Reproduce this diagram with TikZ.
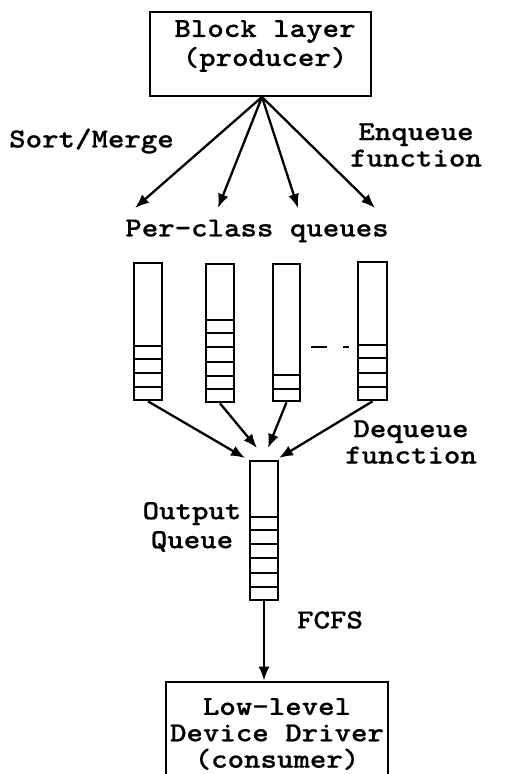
\documentclass[tikz,border=0pt]{standalone}
\usepackage{fontspec}
\setmonofont{lmmonolt10-bold}[Extension=.otf, FakeStretch=1.14, FakeBold=0.6]
\usetikzlibrary{arrows.meta}
\begin{document}
\begin{tikzpicture}[x=0.5pt,y=-0.5pt,
  lbl/.style={font=\ttfamily\fontsize{13.75}{14.5}\selectfont, align=center, inner sep=0pt},
  tight/.style={font=\ttfamily\fontsize{13.75}{13.2}\selectfont},
  arr/.style={-{Latex[length=7pt,width=5.5pt]}, line width=1.15pt},
  qbox/.style={draw, line width=1.35pt, minimum width=14pt, inner sep=0pt},
  bigbox/.style={draw, line width=1.35pt, inner sep=0pt},
  cell/.style={line width=1.35pt}]
\useasboundingbox (0,0) rectangle (510,774);

% top box
\node[bigbox, minimum width=110.5pt, minimum height=42pt] (prod) at (260.5,54) {};
\node[lbl] (prodtxt) at (265,46) {Block layer\\(producer)};

% labels
\node[lbl] (sortm) at (91.5,141) {Sort/Merge};
\node[lbl, tight] (enq) at (416,145) {Enqueue\\function};
\node[lbl] (pcq) at (257,231) {Per-class queues};

% arrows from producer
\coordinate (src) at (262,97);
\coordinate (t1) at (135,208);
\coordinate (t2) at (218,208);
\coordinate (t3) at (298,208);
\coordinate (t4) at (375,208);
\foreach \t in {t1,t2,t3,t4} \draw[arr] (src) -- (\t);

% per-class queues
\node[qbox, minimum height=68.5pt] (q1) at (148,331.5) {};
\foreach \y in {346,359,373,387} \draw[cell] (q1.west |- 0,\y) -- (q1.east |- 0,\y);
\node[qbox, minimum height=69pt] (q2) at (220,333) {};
\foreach \y in {320,333,347,362,376,389} \draw[cell] (q2.west |- 0,\y) -- (q2.east |- 0,\y);
\node[qbox, minimum width=13.5pt, minimum height=68.5pt] (q3) at (286.5,332.5) {};
\foreach \y in {375,389} \draw[cell] (q3.west |- 0,\y) -- (q3.east |- 0,\y);
\node[qbox, minimum width=14.5pt, minimum height=69pt] (q4) at (372.5,331) {};
\foreach \y in {345,358,373,387} \draw[cell] (q4.west |- 0,\y) -- (q4.east |- 0,\y);
\draw[line width=1.35pt, dash pattern=on 8pt off 8pt] (311,347) -- (349,347);

% output queue
\node[qbox, minimum height=69.5pt] (oq) at (264,530.5) {};
\foreach \y in {517,530,544,558,573,587} \draw[cell] (oq.west |- 0,\y) -- (oq.east |- 0,\y);

\coordinate (d1) at (245,458);
\coordinate (d2) at (257,448);
\coordinate (d3) at (268,448);
\coordinate (d4) at (279,458);
\draw[arr] (q1.south) -- (d1);
\draw[arr] (q2.south) -- (d2);
\draw[arr] (q3.south) -- (d3);
\draw[arr] (q4.south) -- (d4);

\node[lbl, tight] (deq) at (411,442) {Dequeue\\function};
\node[lbl] (outq) at (192,527) {Output\\Queue};
\node[lbl] (fcfs) at (330,620) {FCFS};

% bottom box
\node[bigbox, minimum width=111pt, minimum height=60pt] (drv) at (277,742) {};
\node[lbl, tight] (drvtxt) at (277,734) {Low-level\\Device Driver\\(consumer)};
\draw[arr] (oq.south) -- (oq.south |- drv.north);
\end{tikzpicture}
\end{document}
